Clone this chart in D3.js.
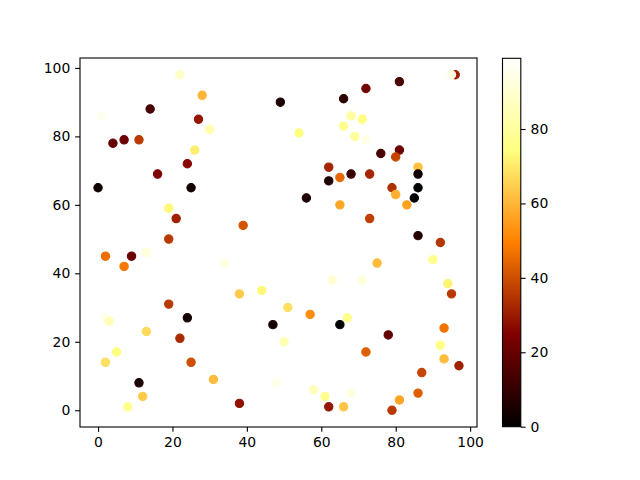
<!DOCTYPE html>
<html><head><meta charset="utf-8">
<script src="https://cdn.jsdelivr.net/npm/d3@7"></script>
<style>body{margin:0;background:#fff}svg{display:block}text{font-family:"DejaVu Sans",sans-serif}</style>
</head><body><svg id="c" width="640" height="480"></svg>
<script>
// data: x, y, colour value (drawing order)
const xs = [22,28,49,1,14,27,30,4,7,11,26,24,16,0,25,19,21,39,19,
 96,95,81,72,66,68,71,66,54,69,72,81,76,80,62,86,68,73,65,86,62,79,86,80,56,85,65,83,73,86,92,
 2,9,13,7,34,38,44,19,24,47,2,3,13,22,5,2,25,31,11,12,8,38,48,
 75,90,63,71,94,95,51,57,67,65,78,93,50,92,72,93,97,87,58,61,68,62,66,81,86,79];
const ys = [98,92,90,86,88,85,82,78,79,79,76,72,69,65,65,59,56,54,50,
 98,98,96,94,91,86,85,83,81,80,79,76,75,74,71,71,69,69,68,69,67,65,65,63,62,62,60,60,56,51,49,
 45,45,46,42,43,34,35,31,27,25,27,26,23,21,17,14,14,9,8,4,1,2,8,
 43,44,38,38,37,34,30,28,27,25,22,24,20,19,17,15,13,11,6,4,5,1,1,3,5,0];
const cs = [88,60,5,96,14,29,83,20,21,36,71,26,25,3,4,73,31,41,36,
 31,94,14,22,9,80,74,77,74,80,94,21,14,38,32,62,11,32,45,3,6,34,1,59,6,0,57,56,37,7,35,
 46,21,92,48,93,64,73,36,4,4,95,85,67,33,74,68,40,61,5,64,77,28,95,
 61,77,90,92,72,36,68,52,77,0,19,47,84,75,43,61,31,38,86,77,93,29,63,57,43,36];
const xTicks = [0,20,40,60,80,100];
const yTicks = [0,20,40,60,80,100];
const cTicks = [0,20,40,60,80];

const cmin = 0, cmax = 99;
function afmhot(t){
  t = Math.max(0, Math.min(1, t));
  const cl = v => Math.round(255*Math.max(0, Math.min(1, v)));
  return `rgb(${cl(2*t)},${cl(2*t-0.5)},${cl(2*t-1)})`;
}
const svg = d3.select("#c");
const L=80, R=477, T=58, B=427;
const x = d3.scaleLinear().domain([-4.85,101.85]).range([L,R]);
const y = d3.scaleLinear().domain([-4.9,102.9]).range([B,T]);
const cnorm = d3.scaleLinear().domain([cmin,cmax]).range([0,1]);

const pts = xs.map((v,i)=>({x:v,y:ys[i],c:cs[i]}));
svg.append("g").selectAll("circle").data(pts).join("circle")
  .attr("cx",d=>x(d.x)).attr("cy",d=>y(d.y)).attr("r",4.17)
  .attr("fill",d=>afmhot(cnorm(d.c))).attr("stroke",d=>afmhot(cnorm(d.c))).attr("stroke-width",1.1);

const gx = svg.append("g").attr("transform",`translate(0,${B})`)
  .call(d3.axisBottom(x).tickValues(xTicks).tickSize(4.86).tickPadding(4.9).tickFormat(d3.format("d")));
const gy = svg.append("g").attr("transform",`translate(${L},0)`)
  .call(d3.axisLeft(y).tickValues(yTicks).tickSize(4.86).tickPadding(4.9).tickFormat(d3.format("d")));
[gx,gy].forEach(g=>{g.select(".domain").remove();g.selectAll("line").attr("stroke","#000").attr("stroke-width",1.1);
  g.selectAll("text").attr("font-size","13.9px").attr("fill","#000").attr("font-family","DejaVu Sans");});
svg.append("rect").attr("x",L).attr("y",T).attr("width",R-L).attr("height",B-T)
  .attr("fill","none").attr("stroke","#000").attr("stroke-width",1.1);

// colorbar
const CL=502.5, CR=520.8, CT=58.3, CB=426.7;
const cy = d3.scaleLinear().domain([cmin,cmax]).range([CB,CT]);
const defs = svg.append("defs");
const grad = defs.append("linearGradient").attr("id","cg").attr("x1",0).attr("y1",1).attr("x2",0).attr("y2",0);
d3.range(0,1.0001,0.05).forEach(t=>grad.append("stop").attr("offset",t).attr("stop-color",afmhot(t)));
svg.append("rect").attr("x",CL).attr("y",CT).attr("width",CR-CL).attr("height",CB-CT).attr("fill","url(#cg)");
const gc = svg.append("g").attr("transform",`translate(${CR},0)`)
  .call(d3.axisRight(cy).tickValues(cTicks).tickSize(4.86).tickPadding(4.9).tickFormat(d3.format("d")));
gc.select(".domain").remove();
gc.selectAll("line").attr("stroke","#000").attr("stroke-width",1.1);
gc.selectAll("text").attr("font-size","13.9px").attr("fill","#000").attr("font-family","DejaVu Sans");
svg.append("rect").attr("x",CL).attr("y",CT).attr("width",CR-CL).attr("height",CB-CT)
  .attr("fill","none").attr("stroke","#000").attr("stroke-width",1.1);
</script></body></html>
